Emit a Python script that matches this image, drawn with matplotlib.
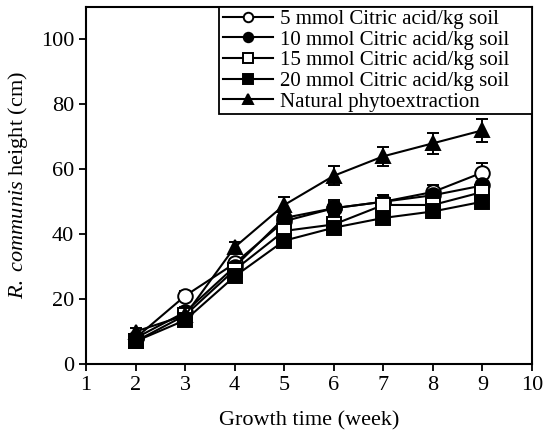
import matplotlib
matplotlib.use("Agg")
import matplotlib.pyplot as plt
from matplotlib.patches import Rectangle

plt.rcParams["font.family"] = ["Liberation Serif", "DejaVu Serif"]
plt.rcParams["mathtext.fontset"] = "custom"
plt.rcParams["mathtext.it"] = "Liberation Serif:italic"
plt.rcParams["mathtext.rm"] = "Liberation Serif"

# growth time (week) and plant height (cm) per treatment
weeks = [2, 3, 4, 5, 6, 7, 8, 9]

ca5 = [8, 21, 31, 44, 48, 50, 53, 59]
ca5_err = [1, 1.5, 1.5, 2, 2, 2, 2, 3]

ca10 = [8, 16, 30, 45, 48, 50, 52, 55]
ca10_err = [1, 1.5, 1.5, 2, 2.5, 2, 2, 2.5]

ca15 = [7, 15, 29, 41, 43, 49, 49, 53]
ca15_err = [1, 1, 1.5, 2, 2, 2, 2, 2.5]

ca20 = [7, 13.5, 27, 38, 42, 45, 47, 50]
ca20_err = [1, 1, 1.5, 2, 2, 2, 2, 2]

natural = [10, 15, 36, 49, 58, 64, 68, 72]
natural_err = [1, 1, 1.5, 2.5, 3, 3, 3.2, 3.5]

series = [
    ("5 mmol Citric acid/kg soil", ca5, ca5_err, "o", "white"),
    ("10 mmol Citric acid/kg soil", ca10, ca10_err, "o", "black"),
    ("15 mmol Citric acid/kg soil", ca15, ca15_err, "s", "white"),
    ("20 mmol Citric acid/kg soil", ca20, ca20_err, "s", "black"),
    ("Natural phytoextraction", natural, natural_err, "^", "black"),
]

fig = plt.figure(figsize=(5.43, 4.45), dpi=100)
ax = fig.add_axes([0.1584, 0.182, 0.8214, 0.8023])

for label, vals, err, mk, face in series:
    ax.errorbar(weeks, vals, yerr=err, marker=mk, markersize=10.5,
                markerfacecolor=face, markeredgecolor="black",
                markeredgewidth=1.4, color="black", linewidth=1.5,
                ecolor="black", elinewidth=1.4, capsize=4.5, capthick=1.4,
                label=label)

ax.set_xlim(1, 10)
ax.set_ylim(0, 110)
ax.set_xticks(range(1, 11))
ax.set_yticks(range(0, 101, 20))
ax.tick_params(direction="out", length=5, width=1.3, labelsize=16,
               colors="black")
for sp in ax.spines.values():
    sp.set_linewidth(1.5)

ax.set_xlabel("Growth time (week)", fontsize=16, labelpad=12)
ax.set_ylabel(r"$\mathit{R.\ communis}$ height (cm)", fontsize=16,
              labelpad=8)

# legend entries sit a bit left of the box's right edge; box drawn separately
handles, labels = ax.get_legend_handles_labels()
handles = [h[0] for h in handles]
leg = ax.legend(handles, labels, loc="upper right",
                bbox_to_anchor=(0.955, 1.0), borderaxespad=0,
                fontsize=15, frameon=False, handlelength=2.4,
                handletextpad=0.33, labelspacing=0.05, borderpad=0.12,
                markerscale=0.65)
leg.set_zorder(6)

fig.canvas.draw()
bb = leg.get_window_extent().transformed(ax.transAxes.inverted())
box = Rectangle((bb.x0 - 0.005, bb.y0), 1.0 - bb.x0 + 0.005, 1.0 - bb.y0,
                transform=ax.transAxes, facecolor="white",
                edgecolor="black", linewidth=1.3, zorder=5.5,
                clip_on=False)
ax.add_patch(box)

fig.savefig("out.png", dpi=100)
